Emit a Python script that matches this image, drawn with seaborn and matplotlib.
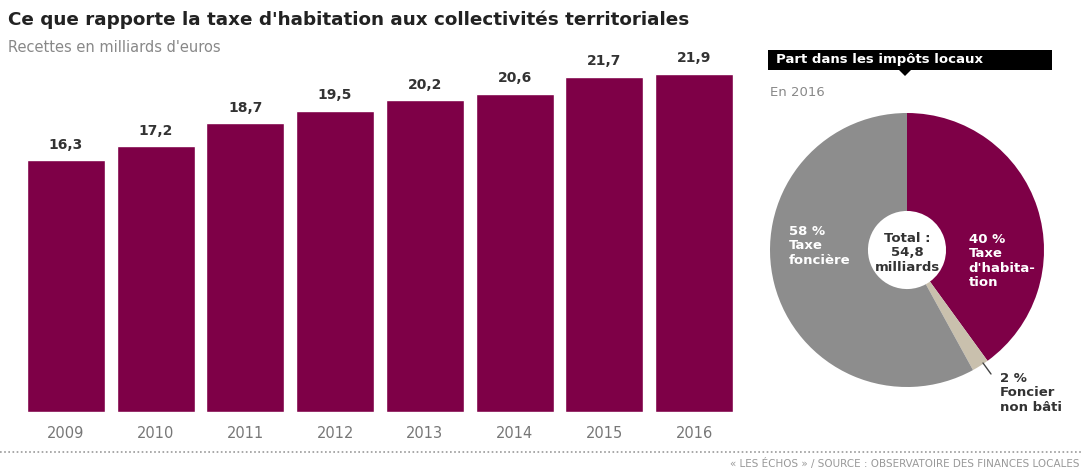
import matplotlib
matplotlib.use("Agg")
import matplotlib.pyplot as plt
import seaborn as sns
import pandas as pd
from matplotlib.patches import Rectangle, Polygon

years = ["2009", "2010", "2011", "2012", "2013", "2014", "2015", "2016"]
recettes = [16.3, 17.2, 18.7, 19.5, 20.2, 20.6, 21.7, 21.9]

pie_labels = ["Taxe d'habitation", "Foncier non bâti", "Taxe foncière"]
pie_values = [40, 2, 58]

PURPLE = "#7e0047"
GRAY = "#8d8d8d"
BEIGE = "#c9c0ad"

sns.set_theme(style="white")
plt.rcParams['font.family'] = ['DejaVu Sans']

W, H = 1081, 468
fig = plt.figure(figsize=(W / 100, H / 100), dpi=100)

def fx(px):
    return px / W

def fy(py):
    return 1 - py / H

# Bar chart
ax = fig.add_axes([fx(21), fy(412), fx(718), 386 / H])
df = pd.DataFrame({"year": years, "value": recettes})
sns.barplot(data=df, x="year", y="value", color=PURPLE, saturation=1,
            width=0.87, ax=ax)
ax.set_ylim(0, 25)
ax.set_xlim(-0.5, 7.5)
for spine in ax.spines.values():
    spine.set_visible(False)
ax.set_yticks([])
ax.set_xlabel("")
ax.set_ylabel("")
ax.tick_params(axis="x", length=0, pad=10, labelsize=10.5, labelcolor="#777777")
for i, v in enumerate(recettes):
    ax.text(i, v + 0.55, f"{v:.1f}".replace(".", ","), ha="center", va="bottom",
            fontsize=10, fontweight="bold", color="#333333")

# Pie chart
R = 137
axp = fig.add_axes([fx(907 - R), fy(250 + R), fx(2 * R), 2 * R / H])
axp.pie(pie_values, colors=[PURPLE, BEIGE, GRAY], startangle=90,
        counterclock=False, radius=1,
        wedgeprops=dict(width=1 - 0.285, edgecolor="none"))
axp.set_xlim(-1, 1)
axp.set_ylim(-1, 1)
axp.set_aspect("equal")
axp.axis("off")

LS = 1.15
axp.text(0, -0.02, "Total :\n54,8\nmilliards", ha="center", va="center",
         fontsize=9.5, fontweight="bold", color="#333333", linespacing=LS)
axp.text(-0.86, 0.03, f"{pie_values[2]} %\nTaxe\nfoncière", ha="left", va="center",
         fontsize=9.5, fontweight="bold", color="white", linespacing=LS)
axp.text(0.45, -0.08, f"{pie_values[0]} %\nTaxe\nd'habita-\ntion", ha="left", va="center",
         fontsize=9.5, fontweight="bold", color="white", linespacing=LS)

# Leader line and small label
fig.add_artist(plt.Line2D([fx(983), fx(991)], [fy(363), fy(374)],
                          color="#444444", lw=1))
fig.text(fx(1000), fy(393), f"{pie_values[1]} %\nFoncier\nnon bâti", ha="left", va="center",
         fontsize=9.5, fontweight="bold", color="#333333", linespacing=LS)

# Titles
fig.text(fx(8), fy(20), "Ce que rapporte la taxe d'habitation aux collectivités territoriales",
         ha="left", va="center", fontsize=13.2, fontweight="bold", color="#222222")
fig.text(fx(8), fy(47), "Recettes en milliards d'euros", ha="left", va="center",
         fontsize=10.5, color="#888888")

# Black box header
fig.add_artist(Rectangle((fx(768), fy(70)), fx(284), 20 / H, transform=fig.transFigure,
                         facecolor="black", edgecolor="none"))
fig.add_artist(Polygon([[fx(899), fy(70)], [fx(911), fy(70)], [fx(905), fy(76)]],
                       closed=True, transform=fig.transFigure,
                       facecolor="black", edgecolor="none"))
fig.text(fx(776), fy(60), "Part dans les impôts locaux", ha="left", va="center",
         fontsize=9.5, fontweight="bold", color="white")
fig.text(fx(770), fy(92), "En 2016", ha="left", va="center", fontsize=9.5, color="#888888")

# Dotted separator and source
fig.add_artist(plt.Line2D([0, 1], [fy(452), fy(452)], color="#999999", lw=1.2,
                          linestyle=(0, (1, 1.5))))
fig.text(fx(1079), fy(463), "« LES ÉCHOS » / SOURCE : OBSERVATOIRE DES FINANCES LOCALES",
         ha="right", va="center", fontsize=7.5, color="#999999")

fig.savefig("out.png", dpi=100)
